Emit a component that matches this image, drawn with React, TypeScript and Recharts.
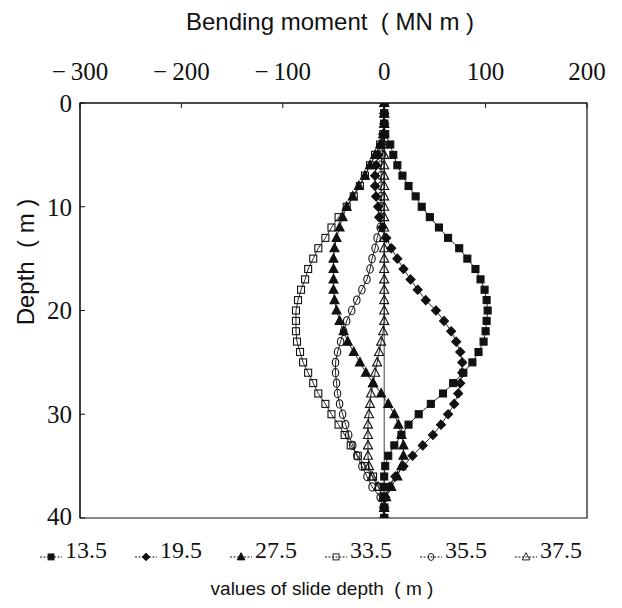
import React from 'react';
import { ScatterChart, Scatter, XAxis, YAxis, ReferenceArea, ReferenceLine } from 'recharts';

// depth below the top of the pile (m)
const depths = [0, 1, 2, 3, 4, 5, 6, 7, 8, 9, 10, 11, 12, 13, 14, 15, 16, 17, 18, 19, 20,
  21, 22, 23, 24, 25, 26, 27, 28, 29, 30, 31, 32, 33, 34, 35, 36, 37, 38, 39, 40];

// bending moment (MN m) for each slide depth
const moment135 = [0, 0, 0, 1, 6, 9, 13, 18, 24, 31, 37, 45, 54, 63, 74, 82, 90, 95, 99, 101, 102,
  101, 100, 98, 93, 87, 78, 68, 58, 46, 34, 24, 17, 10, 4, 1, 0, 0, 0, 0, 0];
const moment195 = [0, 0, 0, -1, -3, -6, -8, -9, -9, -8, -6, -5, -2, 2, 7, 13, 19, 26, 33, 41, 51,
  59, 66, 71, 75, 77, 77, 75, 73, 69, 63, 56, 48, 38, 28, 19, 11, 5, 1, 0, 0];
const moment275 = [0, 0, 0, -1, -4, -9, -14, -19, -25, -31, -37, -41, -44, -47, -49, -50, -50, -50, -50, -49, -47,
  -44, -40, -36, -30, -24, -18, -11, -3, 4, 10, 14, 17, 19, 19, 17, 13, 7, 2, 0, 0];
const moment335 = [0, 0, 0, -1, -4, -9, -14, -19, -24, -30, -37, -45, -52, -58, -65, -70, -75, -78, -82, -85, -87,
  -87, -87, -86, -83, -80, -75, -70, -65, -58, -52, -45, -39, -33, -26, -19, -11, -5, -1, 0, 0];
const moment355 = [0, 0, 0, 0, -1, -2, -3, -3, -3, -3, -3, -3, -4, -7, -9, -12, -14, -17, -22, -27, -32,
  -37, -40, -43, -46, -48, -48, -47, -46, -44, -41, -38, -35, -31, -27, -22, -17, -12, -4, -1, 0];
const moment375 = [0, 0, 0, 0, 0, 0, 0, 0, 0, 0, 0, 0, 0, 0, 0, 0, 0, 0, 0, 0, 0,
  0, -1, -3, -5, -7, -9, -11, -13, -14, -15, -16, -16, -16, -16, -15, -12, -6, -1, 0, 0];

const xTicks = [-300, -200, -100, 0, 100, 200];
const yTicks = [0, 10, 20, 30, 40];

type MarkerKind = 'square' | 'diamond' | 'triangle' | 'circle';

const seriesList: { name: string; values: number[]; kind: MarkerKind; filled: boolean }[] = [
  { name: '13.5', values: moment135, kind: 'square', filled: true },
  { name: '19.5', values: moment195, kind: 'diamond', filled: true },
  { name: '27.5', values: moment275, kind: 'triangle', filled: true },
  { name: '33.5', values: moment335, kind: 'square', filled: false },
  { name: '35.5', values: moment355, kind: 'circle', filled: false },
  { name: '37.5', values: moment375, kind: 'triangle', filled: false },
];

const INK = '#111';
const SERIF = '"Liberation Serif", "Times New Roman", serif';
const SANS = '"Liberation Sans", Arial, sans-serif';

const Marker = ({ cx, cy, kind, filled }: { cx: number; cy: number; kind: MarkerKind; filled: boolean }) => {
  if (cx == null || cy == null) return null;
  const fill = filled ? INK : 'none';
  const common = { fill, stroke: INK, strokeWidth: 1.1 };
  if (kind === 'square') {
    return <rect x={cx - 3.5} y={cy - 3.5} width={7} height={7} {...common} />;
  }
  if (kind === 'diamond') {
    return <polygon points={`${cx},${cy - 4.5} ${cx + 4.5},${cy} ${cx},${cy + 4.5} ${cx - 4.5},${cy}`} {...common} />;
  }
  if (kind === 'triangle') {
    return <polygon points={`${cx},${cy - 5} ${cx + 4.5},${cy + 3.5} ${cx - 4.5},${cy + 3.5}`} {...common} />;
  }
  return <ellipse cx={cx} cy={cy} rx={3.2} ry={4.2} {...common} />;
};

const fmtTick = (v: number) => (v < 0 ? `\u2212\u2009${Math.abs(v)}` : `${v}`);

const LegendItem = ({ name, kind, filled }: { name: string; kind: MarkerKind; filled: boolean }) => (
  <span style={{ display: 'inline-flex', alignItems: 'flex-end', marginRight: 28 }}>
    <svg width={22} height={14} style={{ marginRight: 3, marginBottom: 2 }}>
      <line x1={0} y1={9} x2={22} y2={9} stroke={INK} strokeWidth={1} strokeDasharray="2 1.5" />
      <g transform="scale(0.85) translate(2 2)">
        <Marker cx={11} cy={8.5} kind={kind} filled={filled} />
      </g>
    </svg>
    <span>{name}</span>
  </span>
);

export default function App() {
  return (
    <div style={{ position: 'absolute', left: 0, top: 0, width: 622, height: 608, background: '#fff' }}>
      <div style={{ position: 'absolute', left: 0, width: 660, top: 8, textAlign: 'center', fontFamily: SANS, fontSize: 24, color: INK }}>
        Bending moment &nbsp;( MN m )
      </div>
      <div
        style={{
          position: 'absolute', left: 26, top: 262, transform: 'translate(-50%, -50%) rotate(-90deg)',
          whiteSpace: 'nowrap', fontFamily: SANS, fontSize: 24, color: INK,
        }}
      >
        Depth &nbsp;( m )
      </div>
      <ScatterChart width={622} height={530} margin={{ top: 63, right: 35, bottom: 12, left: 40 }}>
        <XAxis
          type="number"
          dataKey="m"
          orientation="top"
          domain={[-300, 200]}
          ticks={xTicks}
          tickFormatter={fmtTick}
          height={40}
          tickSize={-5}
          tickMargin={28}
          stroke={INK}
          tick={{ fill: INK, fontFamily: SERIF, fontSize: 25 }}
          allowDataOverflow
        />
        <YAxis
          type="number"
          dataKey="d"
          domain={[0, 40]}
          ticks={yTicks}
          reversed
          width={40}
          tickSize={-5}
          tickMargin={13}
          stroke={INK}
          tick={{ fill: INK, fontFamily: SERIF, fontSize: 25 }}
          allowDataOverflow
        />
        <ReferenceArea x1={-300} x2={200} y1={0} y2={40} fill="none" stroke={INK} strokeWidth={1.2} ifOverflow="visible" />
        <ReferenceLine segment={[{ x: 0, y: 0 }, { x: 0, y: 37 }]} stroke={INK} strokeWidth={0.8} />
        {seriesList.map((s) => (
          <Scatter
            key={s.name}
            name={s.name}
            data={depths.map((d, i) => ({ d, m: s.values[i] }))}
            line={{ stroke: INK, strokeWidth: 0.9 }}
            stroke={INK}
            fill={s.filled ? INK : 'none'}
            shape={(p: any) => <Marker cx={p.cx} cy={p.cy} kind={s.kind} filled={s.filled} />}
            isAnimationActive={false}
          />
        ))}
      </ScatterChart>
      <div
        style={{
          position: 'absolute', left: 0, width: 650, top: 537, textAlign: 'center',
          fontFamily: SERIF, fontSize: 24, color: INK, whiteSpace: 'nowrap',
        }}
      >
        {seriesList.map((s) => (
          <LegendItem key={s.name} name={s.name} kind={s.kind} filled={s.filled} />
        ))}
      </div>
      <div style={{ position: 'absolute', left: 0, width: 644, top: 578, textAlign: 'center', fontFamily: SANS, fontSize: 19, color: INK }}>
        values of slide depth &nbsp;( m )
      </div>
    </div>
  );
}
